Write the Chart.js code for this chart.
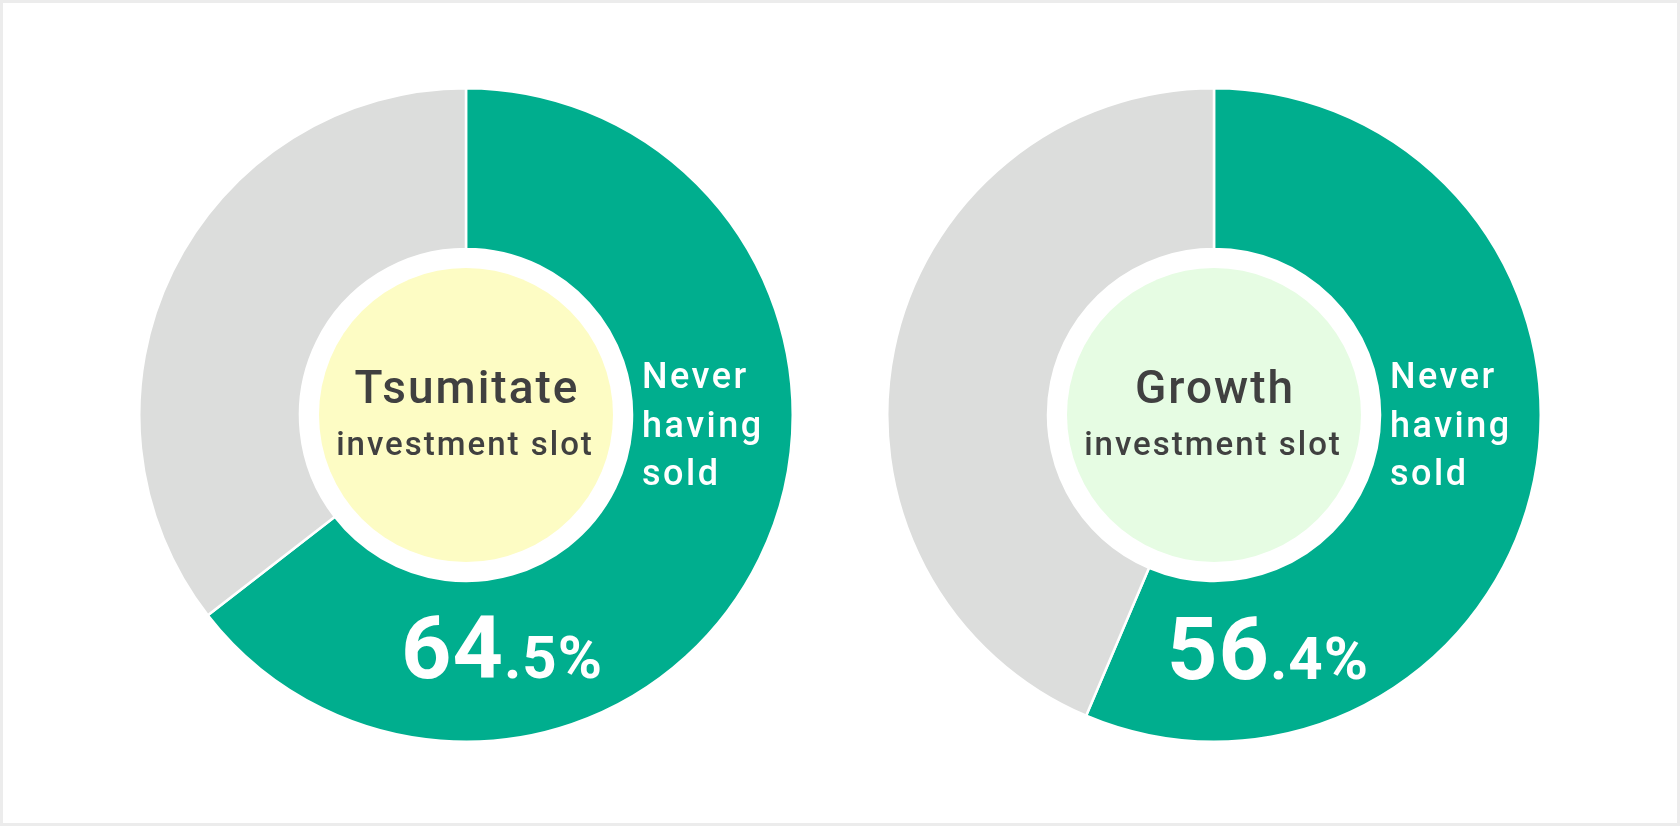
<!DOCTYPE html>
<html>
<head>
<meta charset="utf-8">
<script src="https://cdn.jsdelivr.net/npm/chart.js@4.4.1/dist/chart.umd.min.js"></script>
<style>
  html, body { margin: 0; padding: 0; background: #ffffff; }
  #frame { position: relative; width: 1680px; height: 826px; box-sizing: border-box; border: 3px solid #ececec; background: #ffffff; overflow: hidden; }
  .box { position: absolute; width: 656px; height: 656px; }
</style>
</head>
<body>
<div id="frame">
  <div class="box" style="left:135px; top:84px;"><canvas id="c0"></canvas></div>
  <div class="box" style="left:883px; top:84px;"><canvas id="c1"></canvas></div>
</div>
<script>
// ---- data ----
const categories = ["Never having sold", "Other"];
const tsumitateValues = [64.5, 35.5];
const growthValues = [56.4, 43.6];
const slotTitles = ["Tsumitate", "Growth"];
const slotSubtitle = "investment slot";
const segmentLabel = ["Never", "having", "sold"];

// ---- styles ----
const GREEN = "#00ae8e";
const GRAY = "#dcdddc";
const TEXT = "#404040";
const FONT = "Roboto, 'Noto Sans', sans-serif";

function centerPlugin(title, fill, pctOffset) {
  return {
    id: "centerText",
    afterDatasetsDraw(chart) {
      const meta = chart.getDatasetMeta(0);
      const arc = meta.data[0];
      const cx = arc.x, cy = arc.y;
      const ctx = chart.ctx;
      ctx.save();
      // inner coloured disc
      ctx.beginPath();
      ctx.arc(cx, cy, 147, 0, Math.PI * 2);
      ctx.fillStyle = fill;
      ctx.fill();
      // title
      ctx.fillStyle = TEXT;
      ctx.textAlign = "center";
      ctx.textBaseline = "alphabetic";
      ctx.letterSpacing = "2px";
      ctx.font = "500 46px " + FONT;
      ctx.fillText(title, cx + 1, cy - 12);
      ctx.letterSpacing = "2px";
      ctx.font = "500 33px " + FONT;
      ctx.fillText(slotSubtitle, cx - 1, cy + 40);
      // segment label
      ctx.fillStyle = "#ffffff";
      ctx.textAlign = "left";
      ctx.letterSpacing = "2.5px";
      ctx.font = "500 36px " + FONT;
      segmentLabel.forEach((s, i) => ctx.fillText(s, cx + 176, cy - 27 + i * 48.5));
      // percentage
      const v = chart.data.datasets[0].data[0].toFixed(1);
      const [ip, dp] = v.split(".");
      ctx.letterSpacing = "1px";
      ctx.font = "700 88px " + FONT;
      const w1 = ctx.measureText(ip).width;
      ctx.font = "700 60px " + FONT;
      const w2 = ctx.measureText("." + dp + "%").width;
      const x = cx + pctOffset.dx - (w1 + w2) / 2;
      const y = cy + pctOffset.dy;
      ctx.font = "700 88px " + FONT;
      ctx.fillText(ip, x, y);
      ctx.font = "700 60px " + FONT;
      ctx.fillText("." + dp + "%", x + w1, y);
      ctx.restore();
    }
  };
}

function makeChart(id, values, title, fill, pctOffset) {
  return new Chart(document.getElementById(id), {
    type: "doughnut",
    data: {
      labels: categories,
      datasets: [{
        data: values,
        backgroundColor: [GREEN, GRAY],
        hoverBackgroundColor: [GREEN, GRAY],
        borderColor: "#ffffff",
        hoverBorderColor: "#ffffff",
        borderWidth: 2.5
      }]
    },
    options: {
      responsive: true,
      maintainAspectRatio: false,
      animation: false,
      cutout: 166,
      rotation: 0,
      layout: { padding: 0 },
      plugins: { legend: { display: false }, tooltip: { enabled: false } },
      events: []
    },
    plugins: [centerPlugin(title, fill, pctOffset)]
  });
}

makeChart("c0", tsumitateValues, slotTitles[0], "#fdfcc4", { dx: 36, dy: 263 });
makeChart("c1", growthValues, slotTitles[1], "#e6fce3", { dx: 54, dy: 264 });
</script>
</body>
</html>
